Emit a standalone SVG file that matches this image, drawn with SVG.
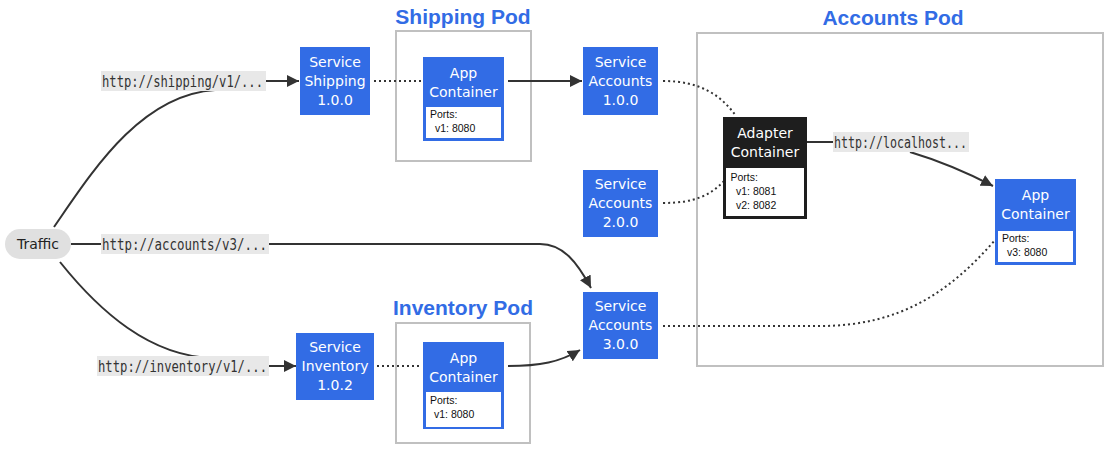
<svg xmlns="http://www.w3.org/2000/svg" width="1115" height="452" viewBox="0 0 1115 452">
<style>
.bg{fill:#ffffff}
.pod{fill:none;stroke:#c0c0c0;stroke-width:2}
.title{font-family:"Liberation Sans",Arial,sans-serif;font-weight:bold;font-size:21px;fill:#326ce5;text-anchor:middle}
.svc{fill:#326ce5}
.adapter{fill:#1e1e1e}
.ntext{font-family:"DejaVu Sans",Verdana,sans-serif;font-size:14px;fill:#ffffff;text-anchor:middle}
.ports{fill:#ffffff}
.ptext{font-family:"Liberation Sans",Arial,sans-serif;font-size:10.5px;fill:#111111}
.traffic{fill:#e0e0e0}
.ttext{font-family:"DejaVu Sans",Verdana,sans-serif;font-size:14px;fill:#222222;text-anchor:middle}
.lbg{fill:#e8e8e8}
.ltext{font-family:"DejaVu Sans Mono","Liberation Mono",monospace;font-size:15px;fill:#333333}
.edge{fill:none;stroke:#333333;stroke-width:2}
.dot{fill:none;stroke:#333333;stroke-width:2;stroke-dasharray:2,3}
</style>
<defs>
<marker id="arrow" markerUnits="userSpaceOnUse" markerWidth="12" markerHeight="12" refX="10" refY="5" orient="auto" viewBox="0 0 10 10">
<path d="M0,0 L10,5 L0,10 z" fill="#333333"/>
</marker>
</defs>
<rect class="bg" x="0" y="0" width="1115" height="452"/>

<g id="pods">
<g id="shipping-pod">
<rect class="pod" x="396" y="31" width="135" height="130"/>
<text class="title" x="463" y="24">Shipping Pod</text>
</g>
<g id="inventory-pod">
<rect class="pod" x="396" y="323" width="134" height="120"/>
<text class="title" x="463" y="315">Inventory Pod</text>
</g>
<g id="accounts-pod">
<rect class="pod" x="697" y="33" width="406" height="333"/>
<text class="title" x="893" y="25">Accounts Pod</text>
</g>
</g>

<g id="connectors">
<path class="edge" d="M54,227 C92,172 140,95 215,90 M265,81 L299,81" marker-end="url(#arrow)"/>
<path class="edge" d="M71,244 L540,244 C563,244 577,262 591,288" marker-end="url(#arrow)"/>
<path class="edge" d="M60,262 C100,312 150,356 212,358 M269,366 L296,366" marker-end="url(#arrow)"/>
<path class="dot" d="M374,81 L421,81"/>
<path class="edge" d="M508,81 L582,81" marker-end="url(#arrow)"/>
<path class="dot" d="M663,81 C700,81 721,95 736,116"/>
<path class="dot" d="M663,203 C695,203 711,195 725,180"/>
<path class="dot" d="M663,326 L820,326 C900,326 950,292 995,240"/>
<path class="dot" d="M377,366 L421,366"/>
<path class="edge" d="M508,366 C540,366 560,362 580,350" marker-end="url(#arrow)"/>
<path class="edge" d="M807,142 L834,142 M910,152 C940,161 966,172 993,186" marker-end="url(#arrow)"/>
</g>

<g id="edge-labels">
<g id="label-shipping">
<rect class="lbg" x="101" y="71" width="165" height="20"/>
<text class="ltext" x="102" y="87" textLength="161" lengthAdjust="spacingAndGlyphs">http://shipping/v1/...</text>
</g>
<g id="label-accounts">
<rect class="lbg" x="101" y="234" width="168" height="20"/>
<text class="ltext" x="102" y="250" textLength="165" lengthAdjust="spacingAndGlyphs">http://accounts/v3/...</text>
</g>
<g id="label-inventory">
<rect class="lbg" x="97" y="356" width="172" height="20"/>
<text class="ltext" x="98" y="372" textLength="169" lengthAdjust="spacingAndGlyphs">http://inventory/v1/...</text>
</g>
<g id="label-localhost">
<rect class="lbg" x="833" y="132" width="136" height="20"/>
<text class="ltext" x="834" y="148" textLength="133" lengthAdjust="spacingAndGlyphs">http://localhost...</text>
</g>
</g>

<g id="traffic">
<rect class="traffic" x="5" y="229" width="66" height="30" rx="15" ry="15"/>
<text class="ttext" x="38" y="249">Traffic</text>
</g>

<g id="service-shipping">
<rect class="svc" x="300" y="47" width="70" height="68"/>
<text class="ntext" x="335" y="67">Service</text>
<text class="ntext" x="335" y="86">Shipping</text>
<text class="ntext" x="335" y="105">1.0.0</text>
</g>

<g id="shipping-app">
<rect class="svc" x="423" y="57" width="81" height="84"/>
<text class="ntext" x="463.5" y="78">App</text>
<text class="ntext" x="463.5" y="97">Container</text>
<rect class="ports" x="426" y="107" width="75" height="31"/>
<text class="ptext" x="430" y="118">Ports:</text>
<text class="ptext" x="435" y="132">v1: 8080</text>
</g>

<g id="service-accounts-1">
<rect class="svc" x="583" y="47" width="75" height="68"/>
<text class="ntext" x="620.5" y="67">Service</text>
<text class="ntext" x="620.5" y="86">Accounts</text>
<text class="ntext" x="620.5" y="105">1.0.0</text>
</g>

<g id="service-accounts-2">
<rect class="svc" x="583" y="170" width="75" height="67"/>
<text class="ntext" x="620.5" y="189">Service</text>
<text class="ntext" x="620.5" y="208">Accounts</text>
<text class="ntext" x="620.5" y="227">2.0.0</text>
</g>

<g id="service-accounts-3">
<rect class="svc" x="583" y="292" width="75" height="67"/>
<text class="ntext" x="620.5" y="311">Service</text>
<text class="ntext" x="620.5" y="330">Accounts</text>
<text class="ntext" x="620.5" y="349">3.0.0</text>
</g>

<g id="adapter-container">
<rect class="adapter" x="723" y="117" width="84" height="102"/>
<text class="ntext" x="765" y="138">Adapter</text>
<text class="ntext" x="765" y="157">Container</text>
<rect class="ports" x="726" y="168" width="78" height="48"/>
<text class="ptext" x="730.5" y="181">Ports:</text>
<text class="ptext" x="736" y="195">v1: 8081</text>
<text class="ptext" x="736" y="209">v2: 8082</text>
</g>

<g id="accounts-app">
<rect class="svc" x="995" y="179" width="81" height="86"/>
<text class="ntext" x="1035.5" y="200">App</text>
<text class="ntext" x="1035.5" y="219">Container</text>
<rect class="ports" x="998" y="231" width="75" height="31"/>
<text class="ptext" x="1002" y="242">Ports:</text>
<text class="ptext" x="1007" y="256">v3: 8080</text>
</g>

<g id="service-inventory">
<rect class="svc" x="296" y="333" width="78" height="67"/>
<text class="ntext" x="335" y="352">Service</text>
<text class="ntext" x="335" y="371">Inventory</text>
<text class="ntext" x="335" y="390">1.0.2</text>
</g>

<g id="inventory-app">
<rect class="svc" x="423" y="342" width="81" height="87"/>
<text class="ntext" x="463.5" y="363">App</text>
<text class="ntext" x="463.5" y="382">Container</text>
<rect class="ports" x="426" y="392" width="75" height="35"/>
<text class="ptext" x="430" y="404">Ports:</text>
<text class="ptext" x="434" y="418">v1: 8080</text>
</g>
</svg>
